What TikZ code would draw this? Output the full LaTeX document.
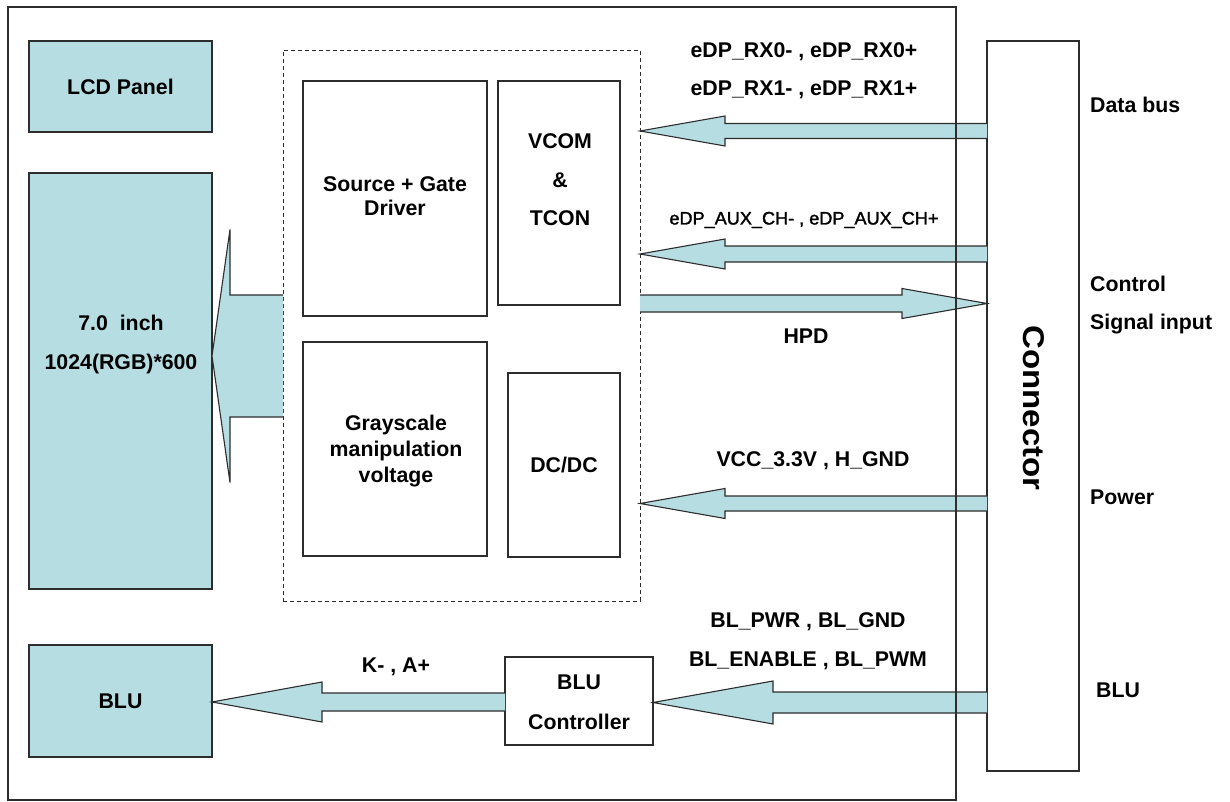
\documentclass[tikz,border=0pt]{standalone}
\usepackage{fontspec}
\setmainfont{Liberation Sans}
\newfontface\auxfont[FakeBold=1.6]{Liberation Sans}
\usetikzlibrary{calc}
\definecolor{panelblue}{RGB}{182,221,226}
\definecolor{edge}{RGB}{45,45,45}
\tikzset{
  box/.style={draw=edge, line width=1.2pt, inner sep=0pt, outer sep=0pt, fill=white},
  panel/.style={box, fill=panelblue},
  dashbox/.style={draw=edge, line width=0.9pt, dash pattern=on 4pt off 3pt, inner sep=0pt, outer sep=0pt},
  t/.style={anchor=base, yshift=-7.6pt, inner sep=0pt, font=\fontsize{21.3}{25}\selectfont\bfseries},
  ts/.style={anchor=base, yshift=-6.5pt, inner sep=0pt, font=\fontsize{18.1}{21}\selectfont\auxfont},
  tl/.style={t, anchor=base west},
  arrowfill/.style={fill=panelblue},
  arrowline/.style={draw=edge, line width=1.1pt, line join=miter},
}
% #1 tail, #2 tip, #3 shaft half width, #4 head half width, #5 head length (signed)
\newcommand\blockarrow[5]{%
  \fill[arrowfill] ($(#1)+(0,#3)$) -- ($(#2)+(#5,#3)$) -- ($(#2)+(#5,#4)$) -- (#2)
     -- ($(#2)+(#5,-#4)$) -- ($(#2)+(#5,-#3)$) -- ($(#1)+(0,-#3)$) -- cycle;
  \draw[arrowline] ($(#1)+(0,#3)$) -- ($(#2)+(#5,#3)$) -- ($(#2)+(#5,#4)$) -- (#2)
     -- ($(#2)+(#5,-#4)$) -- ($(#2)+(#5,-#3)$) -- ($(#1)+(0,-#3)$);
}
\begin{document}
\begin{tikzpicture}[x=1pt, y=-1pt]
\fill[white] (0,0) rectangle (1230,802);
\useasboundingbox (0,0) rectangle (1230,802);

% frame (drawn at the end)
\path (482,403.5) node[minimum width=948pt, minimum height=793pt, inner sep=0pt, outer sep=0pt] (frame) {};

% boxes
\node[panel, minimum width=183pt, minimum height=91pt]  (lcd)   at (120.5,86.5) {};
\node[panel, minimum width=183pt, minimum height=416pt] (panel) at (120.5,381) {};
\node[panel, minimum width=183pt, minimum height=112pt] (blu)   at (120.5,701) {};
\node[dashbox, minimum width=357pt, minimum height=551pt] (ic) at (461.5,325.5) {};
\node[box, minimum width=184pt, minimum height=235pt] (src)  at (395,198.5) {};
\node[box, minimum width=184pt, minimum height=214pt] (gray) at (395,449) {};
\node[box, minimum width=122pt, minimum height=224pt] (tcon) at (559,193) {};
\node[box, minimum width=112pt, minimum height=184pt] (dcdc) at (564,465) {};
\node[box, minimum width=148pt, minimum height=88pt]  (ctrl) at (579,701) {};
\node[box, minimum width=92pt,  minimum height=730pt] (conn) at (1033,406) {};

% arrows
\blockarrow{conn.west |- 0,131}{ic.east |- 0,131}{7.5}{15}{85}
\blockarrow{conn.west |- 0,254}{ic.east |- 0,254}{8}{15}{85}
\blockarrow{ic.east |- 0,303.5}{conn.west |- 0,303.5}{8.5}{15}{-85}
\blockarrow{conn.west |- 0,503.5}{ic.east |- 0,503.5}{7.5}{15}{85}
\blockarrow{conn.west |- 0,702.5}{ctrl.east |- 0,702.5}{10.5}{21.5}{120}
\blockarrow{ctrl.west |- 0,702}{blu.east |- 0,702}{9}{20}{110}
\blockarrow{ic.west |- 0,356}{panel.east |- 0,356}{61}{126.5}{18}

% texts in boxes
\node[t] (tlcd) at (lcd) {LCD Panel};
\node[t] (tp1) at (121,323) {7.0\ \ inch};
\node[t] (tp2) at (121,362) {1024(RGB)*600};
\node[t] (tblu) at (blu) {BLU};
\node[t] (ts1) at (395,184) {Source + Gate};
\node[t] (ts2) at (395,208) {Driver};
\node[t] (tg1) at (396,423) {Grayscale};
\node[t] (tg2) at (396,449) {manipulation};
\node[t] (tg3) at (396,475) {voltage};
\node[t] (tv1) at (560,141) {VCOM};
\node[t] (tv2) at (560,180) {\&};
\node[t] (tv3) at (560,218) {TCON};
\node[t] (tdc) at (dcdc) {DC/DC};
\node[t] (tc1) at (579,682) {BLU};
\node[t] (tc2) at (579,722) {Controller};
\node[rotate=-90, inner sep=0pt, font=\fontsize{30}{34}\selectfont\bfseries] (tconn) at (1034,408) {\scalebox{1.1}[1]{Connector}};

% signal labels
\node[t] (lrx0) at (804,50) {eDP\_RX0- , eDP\_RX0+};
\node[t] (lrx1) at (804,88) {eDP\_RX1- , eDP\_RX1+};
\node[ts] (laux) at (804,218) {eDP\_AUX\_CH- , eDP\_AUX\_CH+};
\node[t] (lhpd) at (806,336) {HPD};
\node[t] (lvcc) at (813,459) {VCC\_3.3V , H\_GND};
\node[t] (lbl1) at (808,620) {BL\_PWR , BL\_GND};
\node[t] (lbl2) at (808,659) {BL\_ENABLE , BL\_PWM};
\node[t] (lka) at (396,665) {K- , A+};

% right side labels
\node[tl] (rdata) at (1090,105) {Data bus};
\node[tl] (rctl1) at (1090,284) {Control};
\node[tl] (rctl2) at (1090,322) {Signal input};
\node[tl] (rpow) at (1090,497) {Power};
\node[tl] (rblu) at (1096,690) {BLU};

% outer frame on top
\draw[draw=edge, line width=1.3pt] (frame.north west) rectangle (frame.south east);
\end{tikzpicture}
\end{document}
